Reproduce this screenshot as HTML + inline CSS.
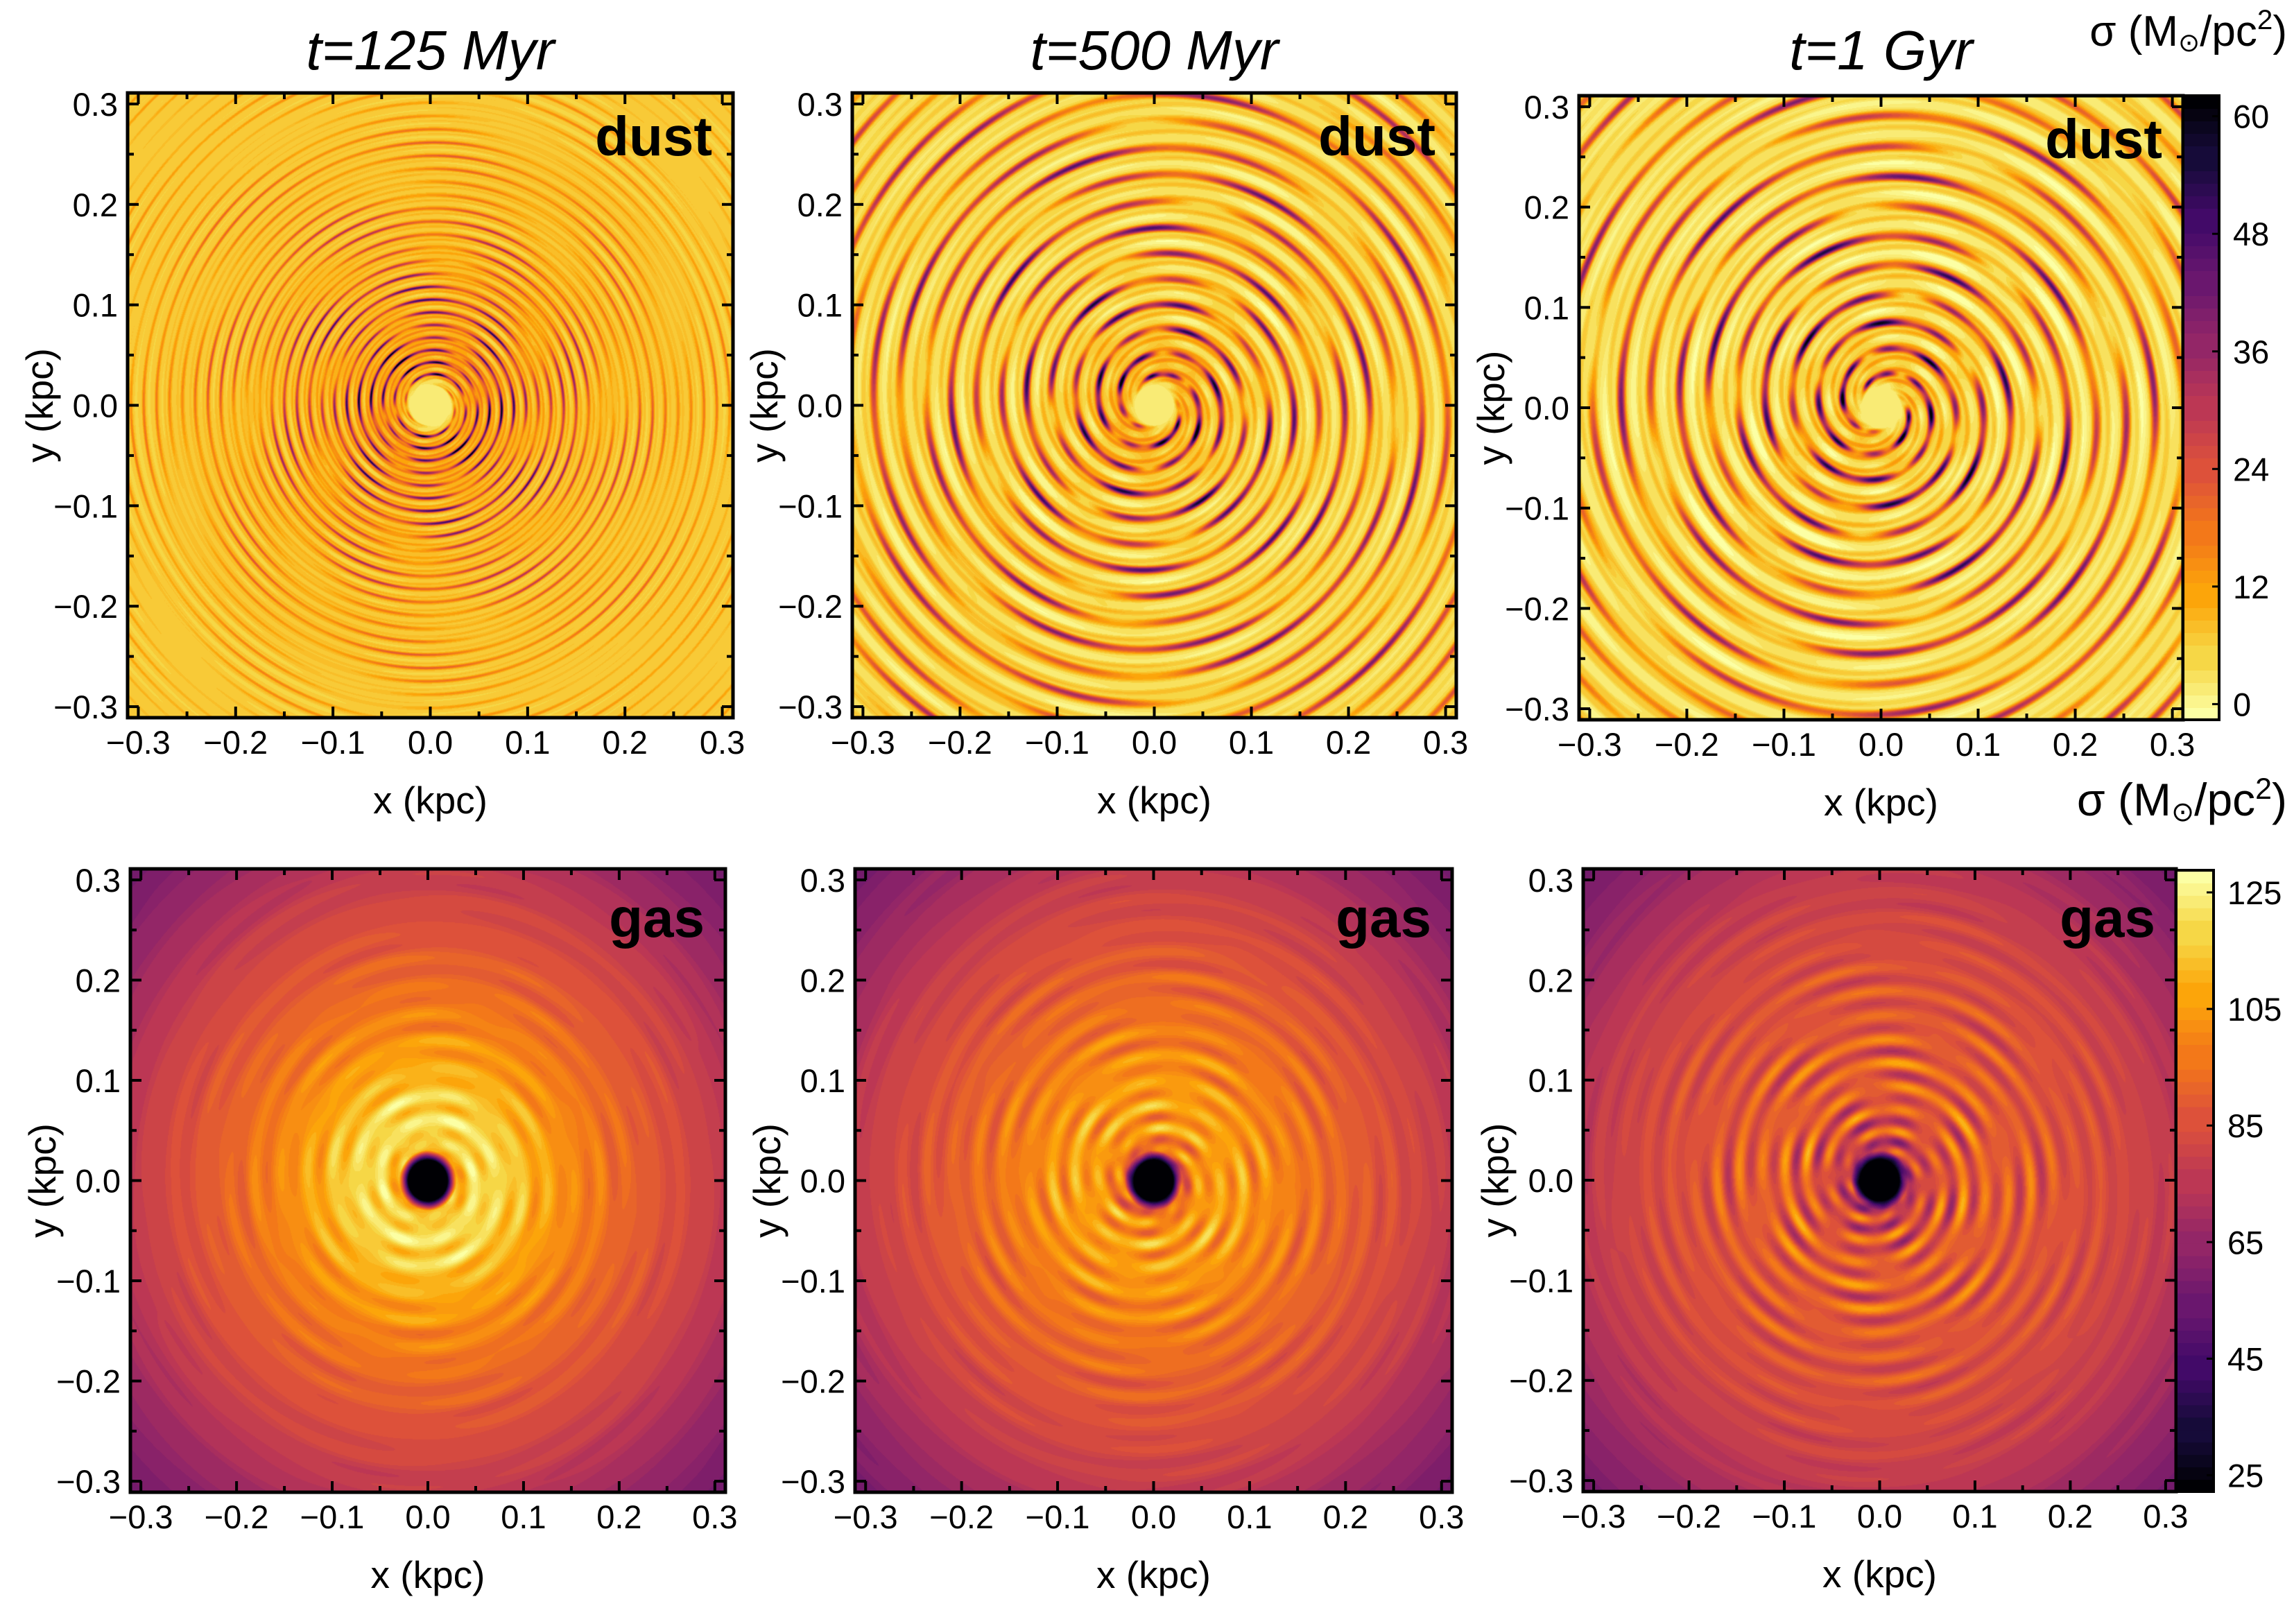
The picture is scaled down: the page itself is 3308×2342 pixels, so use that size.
<!DOCTYPE html>
<html><head><meta charset="utf-8">
<style>
html,body{margin:0;padding:0;background:#fff;}
#wrap{position:relative;width:3308px;height:2342px;overflow:hidden;font-family:"Liberation Sans","DejaVu Sans",sans-serif;}
canvas{position:absolute;}
svg{position:absolute;left:0;top:0;}
</style></head>
<body>
<div id="wrap">
<svg id="ov" width="3308" height="2342"></svg>
</div>
<script>
// ---- data: radial profiles (radius in kpc) ----
const radii      = [0, 0.02, 0.03, 0.05, 0.08, 0.10, 0.15, 0.20, 0.25, 0.30, 0.35, 0.44];
const dust125Mean= [1, 1, 10, 12, 10, 9, 8, 7, 7, 6, 6, 6];
const dust125Amp = [0, 0, 55, 55, 50, 45, 32, 22, 16, 12, 9, 6];
const dust500Mean= [2, 2, 10, 8, 6, 5, 4, 4, 4, 4, 4, 4];
const dust500Amp = [0, 0, 55, 55, 52, 50, 46, 42, 40, 36, 32, 26];
const dust1GMean = [1, 1, 8, 6, 5, 4, 3, 3, 3, 3, 3, 3];
const dust1GAmp  = [0, 0, 60, 58, 56, 54, 50, 46, 40, 36, 32, 28];
const gas125Mean = [18, 18, 110, 120, 118, 112, 101, 93, 86, 79, 70, 56];
const gas125Amp  = [0, 0, 12, 12, 12, 10, 8, 6, 4, 3, 2, 1];
const gas500Mean = [18, 18, 92, 104, 106, 104, 97, 91, 85, 79, 70, 56];
const gas500Amp  = [0, 0, 18, 18, 16, 14, 10, 8, 5, 3, 2, 1];
const gas1GMean  = [18, 18, 76, 84, 88, 90, 88, 86, 83, 78, 70, 56];
const gas1GAmp   = [0, 0, 22, 24, 24, 22, 16, 10, 6, 4, 2, 1];
const xTicks = [-0.3, -0.2, -0.1, 0.0, 0.1, 0.2, 0.3];
const xTickLabels = ["\u22120.3","\u22120.2","\u22120.1","0.0","0.1","0.2","0.3"];
const dustCbarTicks = [0, 12, 24, 36, 48, 60];
const gasCbarTicks = [25, 45, 65, 85, 105, 125];
const titles = ["t=125 Myr", "t=500 Myr", "t=1 Gyr"];

// ---- layout ----
const AX = 0.311;
const panels = [
 {x:184,y:134,w:873,h:901,kind:'dust',mean:dust125Mean,amp:dust125Amp,period:0.0135,m:2,ex:4,name:'dust-125myr'},
 {x:1229,y:134,w:871,h:901,kind:'dust',mean:dust500Mean,amp:dust500Amp,period:0.028,m:3,ex:3,name:'dust-500myr'},
 {x:2277,y:138,w:871,h:900,kind:'dust',mean:dust1GMean,amp:dust1GAmp,period:0.032,m:3,ex:3,name:'dust-1gyr'},
 {x:188,y:1253,w:858,h:899,kind:'gas',mean:gas125Mean,amp:gas125Amp,period:0.03,m:2,ex:1,name:'gas-125myr'},
 {x:1233,y:1253,w:861,h:899,kind:'gas',mean:gas500Mean,amp:gas500Amp,period:0.028,m:3,ex:1,name:'gas-500myr'},
 {x:2283,y:1253,w:855,h:898,kind:'gas',mean:gas1GMean,amp:gas1GAmp,period:0.026,m:3,ex:1,name:'gas-1gyr'}
];
const DUST = {min:-1.6, max:62.1, rev:true};
const GAS = {min:22.2, max:128.8, rev:false};
const INF = [[0,0,4],[22,11,57],[66,10,104],[106,23,110],[147,38,103],[188,55,84],[221,81,58],[243,120,25],[252,165,10],[246,215,70],[252,255,164]];
function cmap(t){
  t=Math.max(0,Math.min(1,t));
  t=Math.round(t*40)/40;
  const f=t*10, i=Math.min(9,Math.floor(f)), u=f-i;
  const a=INF[i], b=INF[i+1];
  return [a[0]+(b[0]-a[0])*u, a[1]+(b[1]-a[1])*u, a[2]+(b[2]-a[2])*u];
}
function interp(arr, r){
  if(r>=radii[radii.length-1]) return arr[arr.length-1];
  for(let i=0;i<radii.length-1;i++){
    if(r<radii[i+1]){const u=(r-radii[i])/(radii[i+1]-radii[i]);return arr[i]+(arr[i+1]-arr[i])*u;}
  }
  return arr[arr.length-1];
}
const wrap=document.getElementById('wrap');
const svg=document.getElementById('ov');
const NS='http://www.w3.org/2000/svg';
function el(tag, attrs, parent){const e=document.createElementNS(NS,tag);for(const k in attrs)e.setAttribute(k,attrs[k]);(parent||svg).appendChild(e);return e;}
function txt(s, attrs, parent){const e=el('text',attrs,parent);e.textContent=s;return e;}

panels.forEach((p,pi)=>{
  const c=document.createElement('canvas');
  c.width=p.w;c.height=p.h;c.style.left=p.x+'px';c.style.top=p.y+'px';
  
  
  wrap.insertBefore(c, svg);
  const ctx=c.getContext('2d');
  const img=ctx.createImageData(p.w,p.h);
  const cb = p.kind==='dust'?DUST:GAS;
  for(let j=0;j<p.h;j++){
    const y=AX-(j+0.5)/p.h*2*AX;
    for(let i=0;i<p.w;i++){
      const x=-AX+(i+0.5)/p.w*2*AX;
      const r=Math.sqrt(x*x+y*y), th=Math.atan2(y,x);
      const mean=interp(p.mean,r), amp=interp(p.amp,r);
      const ph=2*Math.PI*r/p.period + p.m*th + 3*Math.log(r+0.01);
      const s=Math.sin(ph);
      const s2=0.5+0.5*Math.sin(5*th - r*60 + pi)*Math.sin(3*th + r*25 + 2*pi);
      const s3=Math.sin(2*ph+th*2);
      let v;
      if(p.kind==='dust'){
        v = mean + amp*s2*(s>0?Math.pow(s,p.ex):0.12*s) + 0.12*amp*(s3>0?s3:0);
      } else {
        v = mean + amp*s2*s;
      }
      const t=(v-cb.min)/(cb.max-cb.min);
      const col=cmap(cb.rev?1-t:t);
      const k=(j*p.w+i)*4;
      img.data[k]=col[0];img.data[k+1]=col[1];img.data[k+2]=col[2];img.data[k+3]=255;
    }
  }
  ctx.putImageData(img,0,0);

  const g=el('g',{});
  
  
  const sx=v=>p.x+(v+AX)/(2*AX)*p.w;
  const sy=v=>p.y+(AX-v)/(2*AX)*p.h;
  for(let v=-0.3;v<=0.3001;v+=0.05){
    const major=Math.abs(Math.round(v*20))%2===0, L=major?16:9;
    const X=sx(v), Y=sy(v);
    el('line',{x1:X,y1:p.y+p.h,x2:X,y2:p.y+p.h-L,stroke:'#000','stroke-width':4},g);
    el('line',{x1:X,y1:p.y,x2:X,y2:p.y+L,stroke:'#000','stroke-width':4},g);
    el('line',{x1:p.x,y1:Y,x2:p.x+L,y2:Y,stroke:'#000','stroke-width':4},g);
    el('line',{x1:p.x+p.w,y1:Y,x2:p.x+p.w-L,y2:Y,stroke:'#000','stroke-width':4},g);
  }
  el('rect',{x:p.x,y:p.y,width:p.w,height:p.h,fill:'none',stroke:'#000','stroke-width':5},g);
  xTicks.forEach((v,k)=>{
    const t1=txt(xTickLabels[k],{x:sx(v),y:p.y+p.h+52,'font-size':47,'text-anchor':'middle'},g);
    
    
    const t2=txt(xTickLabels[k],{x:p.x-14,y:sy(v)+17,'font-size':47,'text-anchor':'end'},g);
    
    
  });
  const xl=txt('x (kpc)',{x:p.x+p.w/2,y:p.y+p.h+138,'font-size':55,'text-anchor':'middle'},g);
  
  
  const yc=p.y+p.h/2, xc=p.x-108;
  const yl=txt('y (kpc)',{x:xc,y:yc,'font-size':55,'text-anchor':'middle',transform:`rotate(-90 ${xc} ${yc})`},g);
  
  
  const lab=txt(p.kind,{x:p.x+p.w-30,y:p.y+(p.kind==='dust'?90:98),'font-size':80,'font-weight':'bold','text-anchor':'end'},g);
  
  
  if(pi<3){
    const tt=txt(titles[pi],{x:p.x+p.w/2,y:100,'font-size':80,'font-style':'italic','text-anchor':'middle'},g);
    
    
  }
});

function colorbar(x,y,w,h,cb,ticks,name){
  const g=el('g',{});
  
  
  const N=50;
  for(let i=0;i<N;i++){
    const t=(i+0.5)/N;
    const col=cmap(cb.rev?1-t:t);
    el('rect',{x:x,y:y+h-(i+1)*h/N,width:w,height:h/N+1,fill:`rgb(${col.map(Math.round).join(',')})`},g);
  }
  el('rect',{x:x,y:y,width:w,height:h,fill:'none',stroke:'#000','stroke-width':4},g);
  ticks.forEach(v=>{
    const Y=y+h-(v-cb.min)/(cb.max-cb.min)*h;
    el('line',{x1:x+w-10,y1:Y,x2:x+w,y2:Y,stroke:'#000','stroke-width':3},g);
    const t=txt(String(v),{x:x+w+20,y:Y+17,'font-size':47},g);
    
    
  });
}
colorbar(3148,138,52,900,DUST,dustCbarTicks,'dust-colorbar');
colorbar(3138,1255,54,896,GAS,gasCbarTicks,'gas-colorbar');
function sigma(yb,fs,name){
  const t=el('text',{x:3298,y:yb,'font-size':fs,'text-anchor':'end'});
  
  
  t.innerHTML='\u03c3 (M<tspan font-size="'+(fs*0.6)+'" dy="8">\u2299</tspan><tspan dy="-8">/pc</tspan><tspan font-size="'+(fs*0.65)+'" dy="-24">2</tspan><tspan dy="24">)</tspan>';
}
sigma(66,62,'dust-colorbar-title');
sigma(1176,66,'gas-colorbar-title');
</script>
</body></html>
